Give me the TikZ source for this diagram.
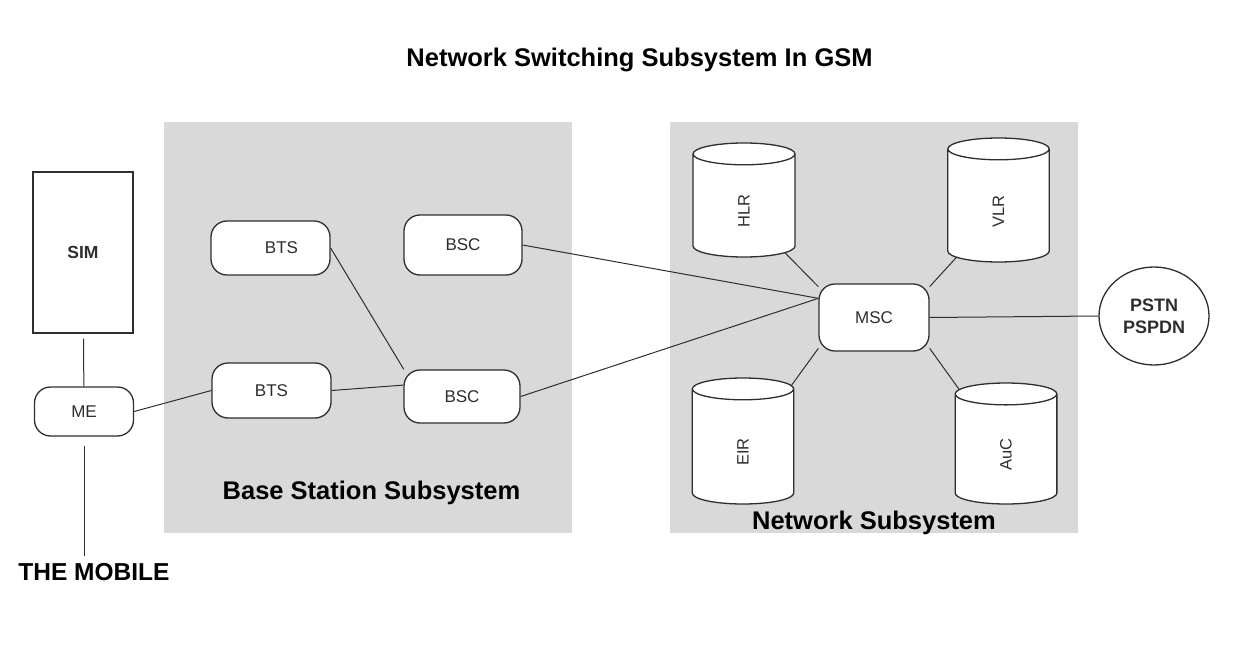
\documentclass[tikz,border=0pt]{standalone}
\usepackage{fontspec}
\setmainfont{Liberation Sans}
\usepackage{xcolor}
\usepackage{tikz}
\usetikzlibrary{shapes.geometric}
\definecolor{area}{HTML}{D9D9D9}
\definecolor{ink}{HTML}{2E2E2E}

\begin{document}
\begin{tikzpicture}[x=1pt,y=-1pt]
			\tikzstyle{box} = [draw=ink, line width=1.3pt, fill=white, rounded corners=16pt, inner sep=0pt, text=ink, font=\fontsize{17}{20}\selectfont]
			\tikzstyle{db} = [cylinder, rotate=90, anchor=shape center, draw=ink, line width=1.3pt, fill=white, shape aspect=0.215, inner xsep=28pt, inner ysep=45pt, text=ink, font=\fontsize{16.5}{20}\selectfont]
			\tikzstyle{heading} = [anchor=base, inner sep=0pt, font=\bfseries\fontsize{25.5}{30}\selectfont]
			\tikzset{edge/.style = {-, draw=ink, line width=1pt}}
			
			\useasboundingbox (0,0) rectangle (1252,655);
			\fill[area] (164,122) rectangle (572,533);
			\fill[area] (670,122) rectangle (1078,533);
			
			\node[heading](title) at (639.5,66.7) {Network Switching Subsystem In GSM};
			\node[heading](bsslabel) at (371.5,499.3) {Base Station Subsystem};
			\node[heading](nsslabel) at (874,529.3) {Network Subsystem};
			\node[heading, font=\bfseries\fontsize{24.5}{30}\selectfont](mobile) at (94,580.7) {THE MOBILE};
			
			\node[box, rounded corners=0pt, minimum width=100pt, minimum height=161pt, font=\bfseries\fontsize{17.5}{20}\selectfont](sim) at (83,252.5) {SIM};
			\node[box, minimum width=99pt, minimum height=49pt](me) at (84,411.5) {ME};
			\draw[edge, shorten <=5pt](sim) to (me);
			\draw[edge, shorten <=9pt, shorten >=7pt](me.south) to (me.south |- mobile.north);
			
			\node[box, minimum width=119pt, minimum height=54pt](bts1) at (270.5,248) {\hspace{22pt}BTS};
			\node[box, minimum width=118pt, minimum height=60pt](bsc1) at (463,245) {BSC\hspace{12pt}};
			\node[box, minimum width=119pt, minimum height=55pt](bts2) at (271.5,390.5) {BTS};
			\node[box, minimum width=116pt, minimum height=53pt](bsc2) at (462,396.5) {BSC};
			\draw[edge](me.east) to (bts2.west);
			\draw[edge](bts1.east) to (bsc2.155);
			\draw[edge](bts2.east) to (bsc2.169);
			
			\node[box, minimum width=110pt, minimum height=67pt](msc) at (874,317.5) {MSC};
			\draw[edge](bsc1.east) to (msc.161);
			\draw[edge](bsc2.east) to (msc.161);
			
			\node[db, minimum width=102pt, minimum height=114pt](hlr) at (744,200) {HLR};
			\node[db, minimum width=101pt, minimum height=124pt](vlr) at (998.5,200) {VLR};
			\node[db, minimum width=100pt, minimum height=126pt](eir) at (743,441) {EIR};
			\node[db, minimum width=100pt, minimum height=121pt](auc) at (1006,443.5) {AuC};
			\draw[edge](msc.151) to (hlr);
			\draw[edge](msc.29) to (vlr);
			\draw[edge](msc.209) to (eir);
			\draw[edge](msc.331) to (auc);
			
			\node[ellipse, draw=ink, line width=1.3pt, fill=white, inner sep=0pt, minimum width=110pt, minimum height=98pt, align=center, text=ink, font=\bfseries\fontsize{18}{22}\selectfont](pstn) at (1154,316) {PSTN\\PSPDN};
			\draw[edge](msc.east) to (pstn.west);
			
			\end{tikzpicture}
\end{document}
